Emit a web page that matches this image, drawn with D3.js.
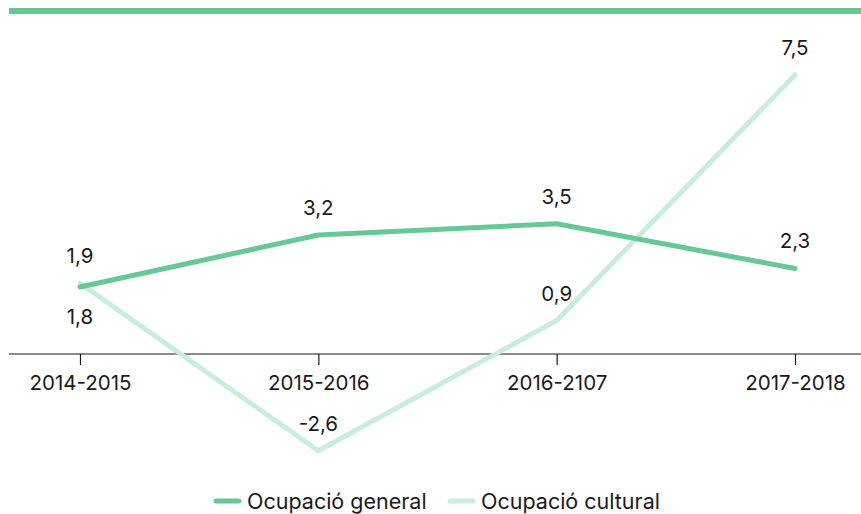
<!DOCTYPE html>
<html>
<head>
<meta charset="utf-8">
<script src="https://cdn.jsdelivr.net/npm/d3@7/dist/d3.min.js"></script>
<style>
  html, body { margin: 0; padding: 0; background: #fff; }
  svg text { font-family: Inter, "Noto Sans", sans-serif; fill: #1a1a1a; }
</style>
</head>
<body>
<svg id="chart" width="861" height="514"></svg>
<script>
const periods = ["2014-2015", "2015-2016", "2016-2107", "2017-2018"];
const generalValues = [1.8, 3.2, 3.5, 2.3];
const culturalValues = [1.9, -2.6, 0.9, 7.5];
const generalLabelPos = ["below", "above", "above", "above"];
const culturalLabelPos = ["above", "above", "above", "above"];
const seriesNames = ["Ocupació general", "Ocupació cultural"];

const colorGeneral = "#66c995";
const colorCultural = "#c8eedb";

const svg = d3.select("#chart");
const W = 861;
const fs = 20.5;

const x = d3.scalePoint().domain(periods).range([80, 795]);
const y = d3.scaleLinear().domain([-3, 8]).range([354 + 3 * 37.2, 354 - 8 * 37.2]);

// top rule
svg.append("rect").attr("x", 9).attr("y", 8).attr("width", W - 9).attr("height", 6).attr("fill", colorGeneral);

// zero axis
svg.append("line").attr("x1", 9).attr("x2", W).attr("y1", y(0)).attr("y2", y(0))
  .attr("stroke", "#1a1a1a").attr("stroke-width", 1.2);

const axis = d3.axisBottom(x).tickSize(11).tickPadding(10).tickSizeOuter(0);
const gAxis = svg.append("g").attr("transform", `translate(0,${y(0)})`).call(axis);
gAxis.select(".domain").remove();
gAxis.selectAll(".tick line").attr("stroke", "#1a1a1a").attr("stroke-width", 1.2);
gAxis.selectAll(".tick text").attr("font-size", fs).attr("font-family", "Inter, sans-serif").attr("fill", "#1a1a1a");

const line = d3.line().x((d, i) => x(periods[i])).y(d => y(d));

function drawSeries(values, color, positions) {
  svg.append("path").datum(values).attr("d", line)
    .attr("fill", "none").attr("stroke", color).attr("stroke-width", 5)
    .attr("stroke-linecap", "round").attr("stroke-linejoin", "round");
  svg.append("g").selectAll("text").data(values).join("text")
    .attr("x", (d, i) => x(periods[i]))
    .attr("y", (d, i) => positions[i] === "above" ? y(d) - 20 : y(d) + 37)
    .attr("text-anchor", "middle")
    .attr("font-size", fs)
    .text(d => d3.format(".1f")(d).replace(".", ",").replace("−", "-"));
}

drawSeries(culturalValues, colorCultural, culturalLabelPos);
drawSeries(generalValues, colorGeneral, generalLabelPos);

// legend
const legend = svg.append("g").attr("transform", "translate(214,501)");
const legendItems = [
  { name: seriesNames[0], color: colorGeneral, dx: 0 },
  { name: seriesNames[1], color: colorCultural, dx: 234 }
];
legendItems.forEach(it => {
  const g = legend.append("g").attr("transform", `translate(${it.dx},0)`);
  g.append("line").attr("x1", 2).attr("x2", 25).attr("y1", 0).attr("y2", 0)
    .attr("stroke", it.color).attr("stroke-width", 5).attr("stroke-linecap", "round");
  g.append("text").attr("x", 33).attr("y", 0).attr("dy", "0.35em").attr("font-size", 21.5).text(it.name);
});
</script>
</body>
</html>
